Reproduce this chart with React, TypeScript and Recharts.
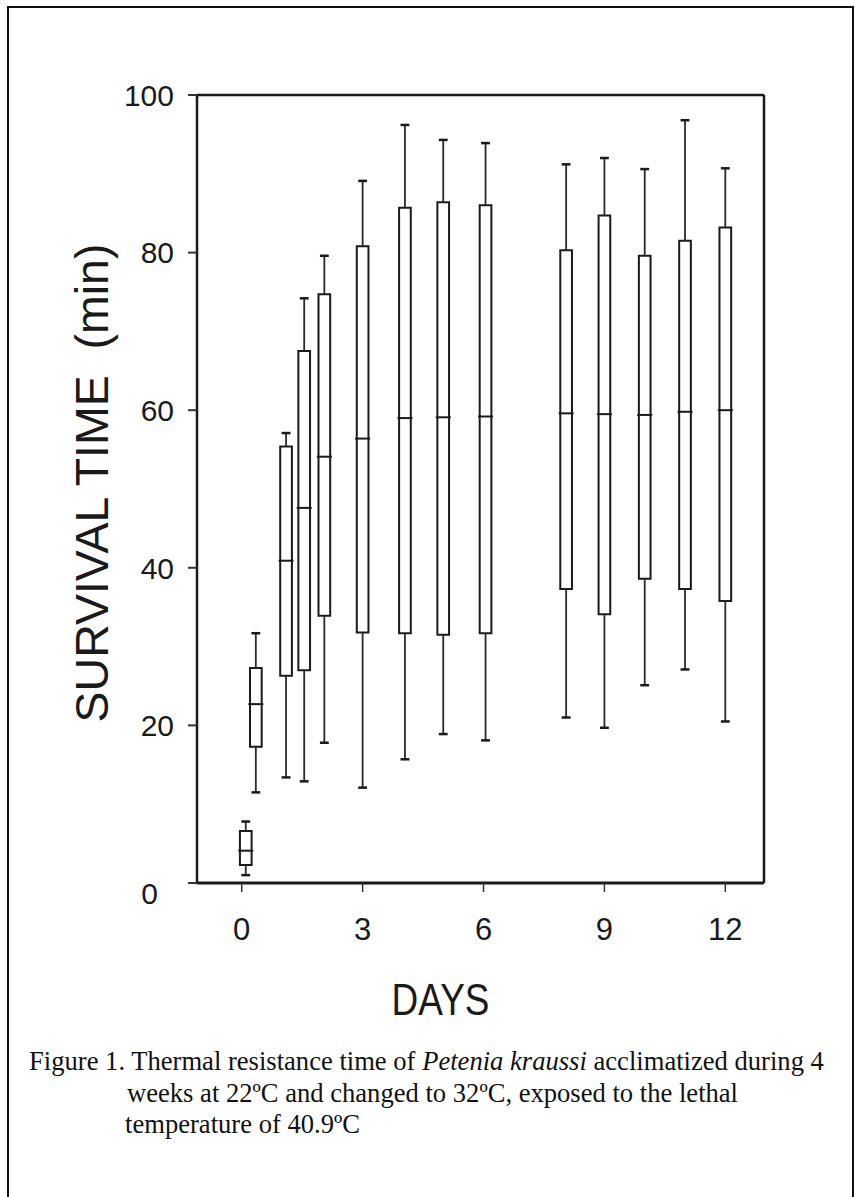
import React from "react";
import {
  ComposedChart,
  XAxis,
  YAxis,
  Scatter,
  ReferenceArea,
  ReferenceLine,
} from "recharts";

// box positions on the day axis (two groups sit at day 0)
const dayPositions = [0.1, 0.35, 1.1, 1.55, 2.05, 3, 4.05, 5.0, 6.05, 8.05, 9.0, 10.0, 11.0, 12.0];
const whiskerLow = [1.0, 11.5, 13.4, 12.9, 17.8, 12.1, 15.7, 18.9, 18.1, 21.0, 19.7, 25.1, 27.1, 20.5];
const quartile1 = [2.3, 17.3, 26.3, 27.0, 33.9, 31.8, 31.7, 31.5, 31.7, 37.3, 34.1, 38.6, 37.3, 35.8];
const medians = [4.1, 22.7, 40.9, 47.6, 54.1, 56.4, 59.0, 59.1, 59.2, 59.6, 59.5, 59.4, 59.8, 60.0];
const quartile3 = [6.6, 27.3, 55.4, 67.5, 74.7, 80.8, 85.7, 86.4, 86.0, 80.3, 84.7, 79.6, 81.5, 83.2];
const whiskerHigh = [7.8, 31.7, 57.1, 74.2, 79.6, 89.1, 96.2, 94.3, 93.9, 91.2, 92.0, 90.6, 96.8, 90.7];

const xTicks = [0, 3, 6, 9, 12];
const yTicks = [0, 20, 40, 60, 80, 100];

const X_MIN = -1.11;
const X_MAX = 12.96;

// half widths in day units
const BOX_HALF = 0.145;
const CAP_HALF = 0.11;

const INK = "#1a1a1a";
const SANS = "'Liberation Sans', Arial, Helvetica, sans-serif";

const rows = dayPositions.map((pos, i) => ({
  pos,
  lo: whiskerLow[i],
  q1: quartile1[i],
  median: medians[i],
  q3: quartile3[i],
  hi: whiskerHigh[i],
}));

const MedianMark = (props: any) => {
  const { cx, cy } = props;
  if (cx == null || cy == null) return null;
  return <line x1={cx - 7.5} x2={cx + 7.5} y1={cy} y2={cy} stroke={INK} strokeWidth={2} />;
};

const YTick = (props: any) => {
  const { x, y, payload } = props;
  const isZero = payload.value === 0;
  return (
    <text
      x={x + (isZero ? -16 : 0)}
      y={y + (isZero ? 10 : 0)}
      dy="0.36em"
      textAnchor="end"
      fontFamily={SANS}
      fontSize={30}
      fill={INK}
    >
      {payload.value}
    </text>
  );
};

const XTick = (props: any) => {
  const { x, y, payload } = props;
  return (
    <text x={x} y={y} dy="0.72em" textAnchor="middle" fontFamily={SANS} fontSize={31} fill={INK}>
      {payload.value}
    </text>
  );
};

const YTitle = (props: any) => {
  const vb = props.viewBox || { x: 0, y: 0, width: 0, height: 0 };
  const cx = vb.x + 91;
  const cy = vb.y + vb.height / 2 - 6;
  return (
    <text
      transform={`translate(${cx},${cy}) rotate(-90)`}
      textAnchor="middle"
      dy="0.36em"
      fontFamily={SANS}
      fontSize={46.5}
      fill={INK}
      style={{ whiteSpace: "pre" }}
    >
      {"SURVIVAL TIME  (min)"}
    </text>
  );
};

const XTitle = (props: any) => {
  const vb = props.viewBox || { x: 0, y: 0, width: 0, height: 0 };
  const cx = vb.x + vb.width / 2 - 40;
  const cy = vb.y + 132;
  return (
    <text
      transform={`translate(${cx},${cy}) scale(0.84,1)`}
      textAnchor="middle"
      fontFamily={SANS}
      fontSize={44}
      fill={INK}
    >
      DAYS
    </text>
  );
};

export default function App() {
  return (
    <div
      style={{
        position: "absolute",
        left: 0,
        top: 0,
        width: 855,
        height: 1197,
        overflow: "hidden",
        background: "#fff",
      }}
    >
      <div
        style={{
          position: "absolute",
          left: 7,
          top: 6,
          width: 847,
          height: 1210,
          border: "2px solid #111",
          boxSizing: "border-box",
        }}
      />
      <div style={{ position: "absolute", left: 0, top: 0 }}>
        <ComposedChart
          width={855}
          height={1060}
          data={rows}
          margin={{ top: 95, right: 91, left: 0, bottom: 0 }}
        >
          <XAxis
            type="number"
            dataKey="pos"
            domain={[X_MIN, X_MAX]}
            ticks={xTicks}
            allowDataOverflow
            height={177}
            tickSize={9}
            tickMargin={26}
            axisLine={{ stroke: INK, strokeWidth: 3 }}
            tickLine={{ stroke: "#333", strokeWidth: 1.5 }}
            tick={<XTick />}
            label={{ content: <XTitle /> }}
          />
          <YAxis
            type="number"
            domain={[0, 100]}
            ticks={yTicks}
            allowDataOverflow
            width={197}
            tickSize={9}
            tickMargin={14}
            axisLine={{ stroke: INK, strokeWidth: 2.5 }}
            tickLine={{ stroke: "#333", strokeWidth: 2 }}
            tick={<YTick />}
            label={{ content: <YTitle /> }}
          />
          {/* frame: top and right edges */}
          <ReferenceLine y={100} stroke={INK} strokeWidth={2.5} />
          <ReferenceLine x={X_MAX} stroke={INK} strokeWidth={2.5} />
          {rows.map((r, i) => (
            <ReferenceArea
              key={`box-${i}`}
              x1={r.pos - BOX_HALF}
              x2={r.pos + BOX_HALF}
              y1={r.q1}
              y2={r.q3}
              fill="none"
              fillOpacity={0}
              stroke={INK}
              strokeWidth={2}
            />
          ))}
          {rows.map((r, i) => (
            <ReferenceLine
              key={`wh-${i}`}
              segment={[
                { x: r.pos, y: r.q3 },
                { x: r.pos, y: r.hi },
              ]}
              stroke="#2a2a2a"
              strokeWidth={1.8}
            />
          ))}
          {rows.map((r, i) => (
            <ReferenceLine
              key={`wl-${i}`}
              segment={[
                { x: r.pos, y: r.lo },
                { x: r.pos, y: r.q1 },
              ]}
              stroke="#2a2a2a"
              strokeWidth={1.8}
            />
          ))}
          {rows.map((r, i) => (
            <ReferenceLine
              key={`ch-${i}`}
              segment={[
                { x: r.pos - CAP_HALF, y: r.hi },
                { x: r.pos + CAP_HALF, y: r.hi },
              ]}
              stroke={INK}
              strokeWidth={2.5}
            />
          ))}
          {rows.map((r, i) => (
            <ReferenceLine
              key={`cl-${i}`}
              segment={[
                { x: r.pos - CAP_HALF, y: r.lo },
                { x: r.pos + CAP_HALF, y: r.lo },
              ]}
              stroke={INK}
              strokeWidth={2.5}
            />
          ))}
          <Scatter dataKey="median" shape={<MedianMark />} isAnimationActive={false} />
        </ComposedChart>
      </div>
      <div
        style={{
          position: "absolute",
          left: 29,
          top: 1046,
          fontFamily: "'Liberation Serif', 'Times New Roman', serif",
          fontSize: 26.6,
          lineHeight: "31.5px",
          color: "#111",
          whiteSpace: "nowrap",
        }}
      >
        <div>
          Figure 1. Thermal resistance time of <i>Petenia kraussi</i> acclimatized during 4
        </div>
        <div style={{ paddingLeft: 98 }}>weeks at 22ºC and changed to 32ºC, exposed to the lethal</div>
        <div style={{ paddingLeft: 96 }}>temperature of 40.9ºC</div>
      </div>
    </div>
  );
}
